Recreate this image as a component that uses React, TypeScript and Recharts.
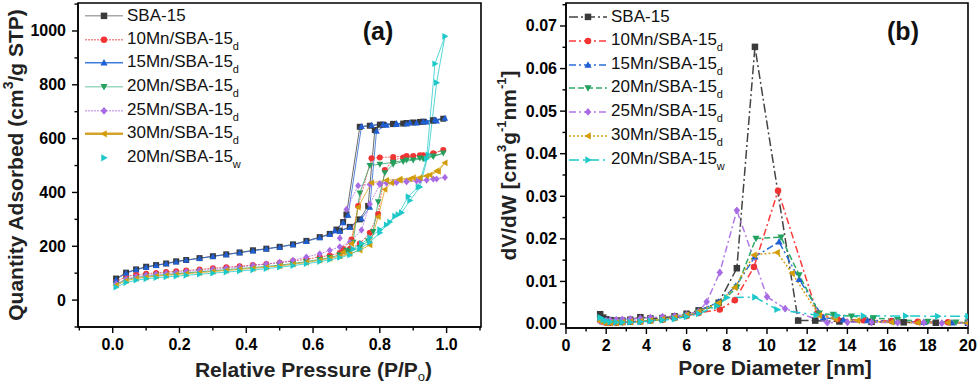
import React from 'react';
import { LineChart, Line, XAxis, YAxis, ReferenceArea, Legend } from 'recharts';

const FONT = '"Liberation Sans", Arial, Helvetica, sans-serif';

// ---------- shared series metadata ----------
const seriesNames = ['SBA-15', '10Mn/SBA-15', '15Mn/SBA-15', '20Mn/SBA-15', '25Mn/SBA-15', '30Mn/SBA-15', '20Mn/SBA-15'];
const seriesSubs = ['', 'd', 'd', 'd', 'd', 'd', 'w'];
const seriesShapes = ['square', 'circle', 'up', 'down', 'diamond', 'left', 'right'];
const markerColors = ['#3a3a3a', '#f03434', '#1f5fd2', '#24a05e', '#a96be3', '#d39c0a', '#1fc8c8'];
const psdLineColors = ['#444444', '#ff3a3a', '#2a6fd8', '#2ea866', '#b27ae8', '#d8a21c', '#1fcaca'];
const isoLineColors = ['#a8a8a8', '#f48a8a', '#3f7bdb', '#9fd8c0', '#cfaaf0', '#d6a32a', '#44d0d0'];
const psdDashes = ['9 3 2 3', '7 3 2 3', '7 3 2 3', '6 3', '7 3 2 3', '2 2', '10 4 2 4'];
const isoDashes = ['', '2 1', '', '', '2 1', '', ''];

// ---------- (a) N2 isotherm data ----------
const isoLowP = [0.01, 0.04, 0.07, 0.1, 0.13, 0.16, 0.19, 0.22, 0.26, 0.3, 0.34, 0.38, 0.42, 0.46, 0.5, 0.54, 0.58, 0.62, 0.65, 0.68];

const sbaLowV = [80, 102, 114, 124, 130, 136, 144, 149, 156, 163, 170, 177, 185, 191, 198, 207, 220, 234, 246, 258];
const sbaHiP = [0.71, 0.74, 0.765, 0.785, 0.81, 0.84, 0.87, 0.9, 0.93, 0.96, 0.99, 0.96, 0.92, 0.88, 0.84, 0.8, 0.77, 0.74, 0.7, 0.69, 0.67];
const sbaHiV = [272, 300, 350, 632, 652, 654, 656, 660, 663, 667, 674, 668, 662, 658, 655, 652, 648, 644, 318, 290, 262];

const mn10LowV = [68, 88, 94, 98, 101, 104, 107, 110, 114, 118, 122, 126, 130, 134, 139, 145, 152, 160, 166, 175];
const mn10HiP = [0.71, 0.74, 0.77, 0.795, 0.815, 0.84, 0.87, 0.9, 0.93, 0.96, 0.99, 0.96, 0.92, 0.88, 0.84, 0.8, 0.775, 0.735, 0.715, 0.69];
const mn10HiV = [190, 210, 250, 320, 483, 520, 530, 535, 538, 545, 558, 545, 538, 535, 532, 530, 527, 350, 225, 190];

const mn15LowV = [76, 100, 113, 122, 129, 135, 142, 148, 155, 162, 169, 176, 183, 190, 197, 206, 218, 232, 244, 256];
const mn15HiP = [0.71, 0.745, 0.77, 0.79, 0.82, 0.85, 0.88, 0.91, 0.94, 0.97, 0.995, 0.965, 0.93, 0.89, 0.85, 0.81, 0.775, 0.745, 0.705, 0.69, 0.665];
const mn15HiV = [270, 302, 345, 628, 650, 653, 655, 658, 662, 666, 676, 670, 663, 659, 656, 653, 650, 645, 315, 288, 258];

const mn20LowV = [58, 76, 84, 88, 92, 95, 98, 101, 105, 109, 113, 117, 121, 125, 130, 136, 143, 151, 158, 168];
const mn20HiP = [0.71, 0.74, 0.765, 0.78, 0.795, 0.815, 0.84, 0.87, 0.9, 0.93, 0.96, 0.99, 0.96, 0.92, 0.88, 0.84, 0.8, 0.77, 0.74, 0.72, 0.7];
const mn20HiV = [180, 195, 220, 255, 365, 473, 505, 515, 520, 525, 533, 546, 535, 528, 520, 512, 505, 500, 398, 215, 185];

const mn25LowV = [60, 78, 87, 92, 96, 99, 102, 106, 110, 114, 118, 123, 129, 134, 140, 148, 160, 172, 185, 198];
const mn25HiP = [0.71, 0.745, 0.77, 0.8, 0.82, 0.85, 0.88, 0.91, 0.94, 0.97, 0.995, 0.96, 0.92, 0.88, 0.84, 0.8, 0.77, 0.735, 0.7, 0.68];
const mn25HiV = [215, 260, 357, 430, 435, 437, 440, 443, 446, 450, 456, 450, 445, 441, 437, 433, 430, 425, 337, 230];

const mn30LowV = [55, 72, 80, 85, 89, 92, 95, 98, 102, 106, 110, 114, 118, 122, 127, 133, 140, 148, 155, 163];
const mn30HiP = [0.71, 0.74, 0.77, 0.795, 0.815, 0.835, 0.86, 0.89, 0.92, 0.95, 0.975, 0.995, 0.97, 0.94, 0.9, 0.86, 0.82, 0.775, 0.735, 0.715, 0.69];
const mn30HiV = [172, 185, 205, 310, 411, 435, 445, 450, 455, 465, 478, 510, 480, 462, 455, 450, 445, 436, 345, 210, 178];

const wLowV = [48, 65, 74, 79, 83, 86, 89, 92, 96, 100, 104, 108, 112, 117, 122, 128, 135, 143, 150, 158];
const wHiP = [0.71, 0.74, 0.77, 0.8, 0.82, 0.845, 0.865, 0.89, 0.92, 0.945, 0.97, 0.995, 0.965, 0.94, 0.915, 0.885, 0.855, 0.83, 0.8, 0.77, 0.745, 0.72];
const wHiV = [168, 190, 215, 250, 280, 312, 325, 370, 420, 540, 808, 980, 878, 525, 420, 385, 318, 290, 262, 232, 210, 190];

// ---------- (b) pore size distribution data ----------
const psdLowD = [1.7, 1.85, 2.0, 2.2, 2.5, 2.8, 3.2, 3.7, 4.2, 4.8, 5.4, 6.0, 6.6];

const psdSbaLow = [0.0023, 0.0015, 0.0011, 0.0009, 0.0008, 0.0008, 0.001, 0.0016, 0.0013, 0.0014, 0.0018, 0.0024, 0.0032];
const psdSbaHiD = [7.6, 8.5, 9.4, 11.55, 12.4, 13.6, 15.2, 16.8, 18.4, 20];
const psdSbaHiV = [0.005, 0.0131, 0.0651, 0.0008, 0.0008, 0.0006, 0.0005, 0.0004, 0.0003, 0.0003];

const psd10Low = [0.0008, 0.0005, 0.0003, 0.0003, 0.0003, 0.0004, 0.0005, 0.0006, 0.0008, 0.001, 0.0014, 0.0019, 0.0026];
const psd10HiD = [7.65, 8.4, 9.35, 10.55, 12.5, 13.5, 14.8, 16.2, 17.5, 19, 20];
const psd10HiV = [0.0034, 0.0056, 0.0134, 0.0313, 0.0025, 0.0012, 0.0009, 0.0007, 0.0005, 0.0004, 0.0003];

const psd15Low = [0.0012, 0.0008, 0.0005, 0.0004, 0.0004, 0.0004, 0.0005, 0.0006, 0.0008, 0.0011, 0.0015, 0.0021, 0.003];
const psd15HiD = [7.6, 8.45, 9.4, 10.6, 11.6, 12.8, 13.8, 15.0, 16.3, 17.8, 19.2, 20];
const psd15HiV = [0.0052, 0.0089, 0.0158, 0.0193, 0.0105, 0.0015, 0.001, 0.0008, 0.0006, 0.0004, 0.0003, 0.0003];

const psd20Low = [0.001, 0.0007, 0.0005, 0.0004, 0.0004, 0.0004, 0.0005, 0.0006, 0.0008, 0.001, 0.0014, 0.002, 0.0028];
const psd20HiD = [7.6, 8.5, 9.45, 10.7, 11.6, 12.6, 13.3, 14.2, 15.3, 16.5, 18, 19.4, 20];
const psd20HiV = [0.0046, 0.0086, 0.0201, 0.0204, 0.0115, 0.0025, 0.0022, 0.0018, 0.0014, 0.001, 0.0006, 0.0004, 0.0003];

const psd25Low = [0.0006, 0.0005, 0.0008, 0.0009, 0.001, 0.0011, 0.0012, 0.0013, 0.0015, 0.0017, 0.0019, 0.0022, 0.0029];
const psd25HiD = [7.0, 7.65, 8.5, 10.0, 10.9, 13.0, 14.0, 15.2, 16.5, 17.8, 18.7, 20];
const psd25HiV = [0.0052, 0.0121, 0.0267, 0.0064, 0.0036, 0.0003, 0.0004, 0.0004, 0.0003, 0.0003, 0.0002, 0.0002];

const psd30Low = [0.0006, 0.0004, 0.0003, 0.0003, 0.0003, 0.0004, 0.0005, 0.0006, 0.0008, 0.0011, 0.0015, 0.0021, 0.0029];
const psd30HiD = [7.6, 8.4, 9.35, 10.5, 11.25, 12.6, 13.4, 14.5, 16.2, 17.5, 19.0, 20];
const psd30HiV = [0.005, 0.0086, 0.0162, 0.0168, 0.0119, 0.002, 0.0012, 0.0008, 0.0004, 0.0003, 0.0003, 0.0002];

const psdWLow = [0.0015, 0.001, 0.0007, 0.0005, 0.0004, 0.0004, 0.0004, 0.0005, 0.0007, 0.0009, 0.0012, 0.0017, 0.0024];
const psdWHiD = [7.5, 8.0, 9.4, 10.5, 12.45, 13.5, 14.8, 16.9, 18.5, 20];
const psdWHiV = [0.0042, 0.0062, 0.0063, 0.0034, 0.0021, 0.002, 0.0019, 0.0019, 0.0018, 0.0018];

// ---------- ticks ----------
const aXMajor = [0, 0.2, 0.4, 0.6, 0.8, 1.0];
const aXMinor = [-0.1, 0.1, 0.3, 0.5, 0.7, 0.9, 1.1];
const aYMajor = [0, 200, 400, 600, 800, 1000];
const aYMinor = [-100, 100, 300, 500, 700, 900, 1100];
const bXMajor = [0, 2, 4, 6, 8, 10, 12, 14, 16, 18, 20];
const bXMinor = [1, 3, 5, 7, 9, 11, 13, 15, 17, 19];
const bYMajor = [0, 0.01, 0.02, 0.03, 0.04, 0.05, 0.06, 0.07];
const bYMinor = [0.005, 0.015, 0.025, 0.035, 0.045, 0.055, 0.065, 0.075];

const aXDomain = [-0.104, 1.103];
const aYDomain = [-100, 1104];
const bXDomain = [0, 20];
const bYDomain = [-0.00094, 0.0754];

// ---------- helpers ----------
const zip = (xs: number[], ys: number[]) => xs.map((x, i) => ({ x, y: ys[i] }));
const sortNum = (a: number[]) => [...a].sort((p, q) => p - q);

const isoSeries = [
  zip([...isoLowP, ...sbaHiP], [...sbaLowV, ...sbaHiV]),
  zip([...isoLowP, ...mn10HiP], [...mn10LowV, ...mn10HiV]),
  zip([...isoLowP, ...mn15HiP], [...mn15LowV, ...mn15HiV]),
  zip([...isoLowP, ...mn20HiP], [...mn20LowV, ...mn20HiV]),
  zip([...isoLowP, ...mn25HiP], [...mn25LowV, ...mn25HiV]),
  zip([...isoLowP, ...mn30HiP], [...mn30LowV, ...mn30HiV]),
  zip([...isoLowP, ...wHiP], [...wLowV, ...wHiV]),
];

const psdSeries = [
  zip([...psdLowD, ...psdSbaHiD], [...psdSbaLow, ...psdSbaHiV]),
  zip([...psdLowD, ...psd10HiD], [...psd10Low, ...psd10HiV]),
  zip([...psdLowD, ...psd15HiD], [...psd15Low, ...psd15HiV]),
  zip([...psdLowD, ...psd20HiD], [...psd20Low, ...psd20HiV]),
  zip([...psdLowD, ...psd25HiD], [...psd25Low, ...psd25HiV]),
  zip([...psdLowD, ...psd30HiD], [...psd30Low, ...psd30HiV]),
  zip([...psdLowD, ...psdWHiD], [...psdWLow, ...psdWHiV]),
];

function MarkerShape({ kind, cx, cy, color, s }: { kind: string; cx: number; cy: number; color: string; s: number }) {
  const h = s / 2;
  switch (kind) {
    case 'square':
      return <rect x={cx - h} y={cy - h} width={s} height={s} fill={color} />;
    case 'circle':
      return <circle cx={cx} cy={cy} r={h} fill={color} />;
    case 'up':
      return <polygon points={`${cx},${cy - h * 1.15} ${cx + h * 1.1},${cy + h * 0.85} ${cx - h * 1.1},${cy + h * 0.85}`} fill={color} />;
    case 'down':
      return <polygon points={`${cx},${cy + h * 1.15} ${cx + h * 1.1},${cy - h * 0.85} ${cx - h * 1.1},${cy - h * 0.85}`} fill={color} />;
    case 'diamond':
      return <polygon points={`${cx},${cy - h * 1.2} ${cx + h * 1.0},${cy} ${cx},${cy + h * 1.2} ${cx - h * 1.0},${cy}`} fill={color} />;
    case 'left':
      return <polygon points={`${cx - h * 1.15},${cy} ${cx + h * 0.85},${cy - h * 1.1} ${cx + h * 0.85},${cy + h * 1.1}`} fill={color} />;
    case 'right':
    default:
      return <polygon points={`${cx + h * 1.15},${cy} ${cx - h * 0.85},${cy - h * 1.1} ${cx - h * 0.85},${cy + h * 1.1}`} fill={color} />;
  }
}

const makeDot = (kind: string, color: string, s: number, prefix: string) => (props: any) => {
  const { cx, cy, index } = props;
  if (cx == null || cy == null || isNaN(cx) || isNaN(cy)) return <g key={`${prefix}-${index}`} />;
  return (
    <g key={`${prefix}-${index}`}>
      <MarkerShape kind={kind} cx={cx} cy={cy} color={color} s={s} />
    </g>
  );
};

const isMajor = (list: number[], v: number) => list.some((m) => Math.abs(m - v) < 1e-9);

const makeXTick = (major: number[], fmt: (v: number) => string) => (props: any) => {
  const { x, y, payload } = props;
  const maj = isMajor(major, payload.value);
  return (
    <g>
      <line x1={x} y1={y} x2={x} y2={y + (maj ? 6 : 3.5)} stroke="#000" strokeWidth={1.4} />
      {maj && (
        <text x={x} y={y + 23} textAnchor="middle" fontSize={16} fontWeight="bold" fontFamily={FONT} fill="#000">
          {fmt(payload.value)}
        </text>
      )}
    </g>
  );
};

const makeYTick = (major: number[], fmt: (v: number) => string, gap: number) => (props: any) => {
  const { x, y, payload } = props;
  const maj = isMajor(major, payload.value);
  return (
    <g>
      <line x1={x} y1={y} x2={x - (maj ? 6 : 3.5)} y2={y} stroke="#000" strokeWidth={1.4} />
      {maj && (
        <text x={x - gap} y={y} dy={5.5} textAnchor="end" fontSize={16} fontWeight="bold" fontFamily={FONT} fill="#000">
          {fmt(payload.value)}
        </text>
      )}
    </g>
  );
};

function LegendBox({ left, top, rowH, dashes, lineColors, lineW }: any) {
  return (
    <div style={{ position: 'absolute', left, top, fontFamily: FONT, fontSize: 17, color: '#111' }}>
      {seriesNames.map((name, i) => (
        <div key={name + i} style={{ height: rowH, display: 'flex', alignItems: 'center', whiteSpace: 'nowrap' }}>
          <svg width={38} height={rowH} style={{ display: 'block' }}>
            {lineColors[i] && (
              <line x1={0} x2={38} y1={rowH / 2} y2={rowH / 2} stroke={lineColors[i]} strokeWidth={lineW[i]} strokeDasharray={dashes[i] || undefined} />
            )}
            <MarkerShape kind={seriesShapes[i]} cx={19} cy={rowH / 2} color={markerColors[i]} s={6.5} />
          </svg>
          <span style={{ marginLeft: 4, lineHeight: `${rowH}px` }}>
            {name}
            {seriesSubs[i] && <span style={{ fontSize: 11, position: 'relative', top: 6 }}>{seriesSubs[i]}</span>}
          </span>
        </div>
      ))}
    </div>
  );
}

const YTitleA = (props: any) => {
  const vb = props.viewBox || { x: 0, y: 0, width: 0, height: 0 };
  const cx = vb.x + 15;
  const cy = vb.y + vb.height / 2;
  return (
    <text x={cx} y={cy} transform={`rotate(-90 ${cx} ${cy})`} textAnchor="middle" dominantBaseline="central" fontSize={21} fontWeight="bold" fontFamily={FONT} fill="#222">
      Quantity Adsorbed (cm<tspan dy={-7} fontSize={14}>3</tspan><tspan dy={7}>/g STP)</tspan>
    </text>
  );
};

const YTitleB = (props: any) => {
  const vb = props.viewBox || { x: 0, y: 0, width: 0, height: 0 };
  const cx = vb.x + 18;
  const cy = vb.y + vb.height / 2;
  return (
    <text x={cx} y={cy} transform={`rotate(-90 ${cx} ${cy})`} textAnchor="middle" dominantBaseline="central" fontSize={21} fontWeight="bold" fontFamily={FONT} fill="#222">
      dV/dW [cm<tspan dy={-7} fontSize={13}>3</tspan><tspan dy={7}>g</tspan><tspan dy={-7} fontSize={13}>-1</tspan><tspan dy={7}>nm</tspan><tspan dy={-7} fontSize={13}>-1</tspan><tspan dy={7}>]</tspan>
    </text>
  );
};

const XTitleA = (props: any) => {
  const vb = props.viewBox || { x: 0, y: 0, width: 0, height: 0 };
  const cx = vb.x + vb.width / 2 + 34;
  return (
    <text x={cx} y={vb.y + 50} textAnchor="middle" fontSize={21} fontWeight="bold" fontFamily={FONT} fill="#222">
      Relative Pressure (P/P<tspan dy={4} fontSize={13} fontWeight="normal">o</tspan><tspan dy={-4}>)</tspan>
    </text>
  );
};

const XTitleB = (props: any) => {
  const vb = props.viewBox || { x: 0, y: 0, width: 0, height: 0 };
  const cx = vb.x + vb.width / 2 + 8;
  return (
    <text x={cx} y={vb.y + 47} textAnchor="middle" fontSize={21} fontWeight="bold" fontFamily={FONT} fill="#222">
      Pore Diameter [nm]
    </text>
  );
};

const frameStroke = '#000';

function ChartA() {
  return (
    <LineChart width={490} height={385} margin={{ top: 3, right: 9, bottom: 8, left: 0 }}>
      <XAxis
        type="number"
        dataKey="x"
        domain={aXDomain}
        allowDataOverflow
        ticks={sortNum([...aXMajor, ...aXMinor])}
        interval={0}
        tickSize={0}
        tickMargin={0}
        tickLine={false}
        tick={makeXTick(aXMajor, (v) => v.toFixed(1))}
        height={50}
        axisLine={{ stroke: frameStroke, strokeWidth: 1.5 }}
        label={XTitleA}
      />
      <YAxis
        type="number"
        dataKey="y"
        domain={aYDomain}
        allowDataOverflow
        ticks={sortNum([...aYMajor, ...aYMinor])}
        interval={0}
        tickSize={0}
        tickMargin={0}
        tickLine={false}
        tick={makeYTick(aYMajor, (v) => String(v), 12)}
        width={78}
        axisLine={{ stroke: frameStroke, strokeWidth: 1.5 }}
        label={YTitleA}
      />
      <ReferenceArea x1={aXDomain[0]} x2={aXDomain[1]} y1={aYDomain[0]} y2={aYDomain[1]} fill="none" stroke={frameStroke} strokeWidth={1.6} ifOverflow="visible" />
      {isoSeries.map((d, i) => (
        <Line
          key={'a' + i}
          data={d}
          dataKey="y"
          type="linear"
          stroke={markerColors[i]}
          strokeOpacity={0.75}
          strokeWidth={1}
          strokeDasharray={isoDashes[i] || undefined}
          dot={makeDot(seriesShapes[i], markerColors[i], 6, 'a' + i)}
          activeDot={false}
          isAnimationActive={false}
          name={seriesNames[i] + seriesSubs[i]}
        />
      ))}
      <text x={378} y={40} textAnchor="middle" fontSize={25} fontWeight="bold" fontFamily={FONT} fill="#111">(a)</text>
      <Legend
        layout="vertical"
        align="center"
        verticalAlign="middle"
        wrapperStyle={{ position: 'absolute', left: 0, top: 0, width: 0, height: 0 }}
        content={() => (
          <LegendBox left={85} top={4} rowH={23.7} dashes={isoDashes} lineColors={isoLineColors.map((c, i) => (i === 6 ? '' : c))} lineW={[1.5, 1.5, 1.5, 1.5, 1.5, 2.5, 1]} />
        )}
      />
    </LineChart>
  );
}

function ChartB() {
  return (
    <LineChart width={490} height={385} margin={{ top: 3, right: 12, bottom: 8, left: 0 }}>
      <XAxis
        type="number"
        dataKey="x"
        domain={bXDomain}
        allowDataOverflow
        ticks={sortNum([...bXMajor, ...bXMinor])}
        interval={0}
        tickSize={0}
        tickMargin={0}
        tickLine={false}
        tick={makeXTick(bXMajor, (v) => String(v))}
        height={49}
        axisLine={{ stroke: frameStroke, strokeWidth: 1.5 }}
        label={XTitleB}
      />
      <YAxis
        type="number"
        dataKey="y"
        domain={bYDomain}
        allowDataOverflow
        ticks={sortNum([...bYMajor, ...bYMinor])}
        interval={0}
        tickSize={0}
        tickMargin={0}
        tickLine={false}
        tick={makeYTick(bYMajor, (v) => v.toFixed(2), 9)}
        width={76}
        axisLine={{ stroke: frameStroke, strokeWidth: 1.5 }}
        label={YTitleB}
      />
      <ReferenceArea x1={bXDomain[0]} x2={bXDomain[1]} y1={bYDomain[0]} y2={bYDomain[1]} fill="none" stroke={frameStroke} strokeWidth={1.6} ifOverflow="visible" />
      {psdSeries.map((d, i) => (
        <Line
          key={'b' + i}
          data={d}
          dataKey="y"
          type="linear"
          stroke={psdLineColors[i]}
          strokeWidth={1.5}
          strokeDasharray={psdDashes[i]}
          dot={makeDot(seriesShapes[i], markerColors[i], 6.5, 'b' + i)}
          activeDot={false}
          isAnimationActive={false}
          name={seriesNames[i] + seriesSubs[i]}
        />
      ))}
      <text x={413} y={40} textAnchor="middle" fontSize={25} fontWeight="bold" fontFamily={FONT} fill="#111">(b)</text>
      <Legend
        layout="vertical"
        align="center"
        verticalAlign="middle"
        wrapperStyle={{ position: 'absolute', left: 0, top: 0, width: 0, height: 0 }}
        content={() => (
          <LegendBox left={79} top={5} rowH={23.8} dashes={psdDashes} lineColors={psdLineColors} lineW={[1.5, 1.5, 1.5, 1.5, 1.5, 1.5, 1.5]} />
        )}
      />
    </LineChart>
  );
}

export default function App() {
  return (
    <div style={{ position: 'absolute', left: 0, top: 0, width: 980, height: 385, background: '#fff', overflow: 'hidden' }}>
      <div style={{ position: 'absolute', left: 0, top: 0, width: 490, height: 385 }}>
        <ChartA />
      </div>
      <div style={{ position: 'absolute', left: 490, top: 0, width: 490, height: 385 }}>
        <ChartB />
      </div>
    </div>
  );
}
